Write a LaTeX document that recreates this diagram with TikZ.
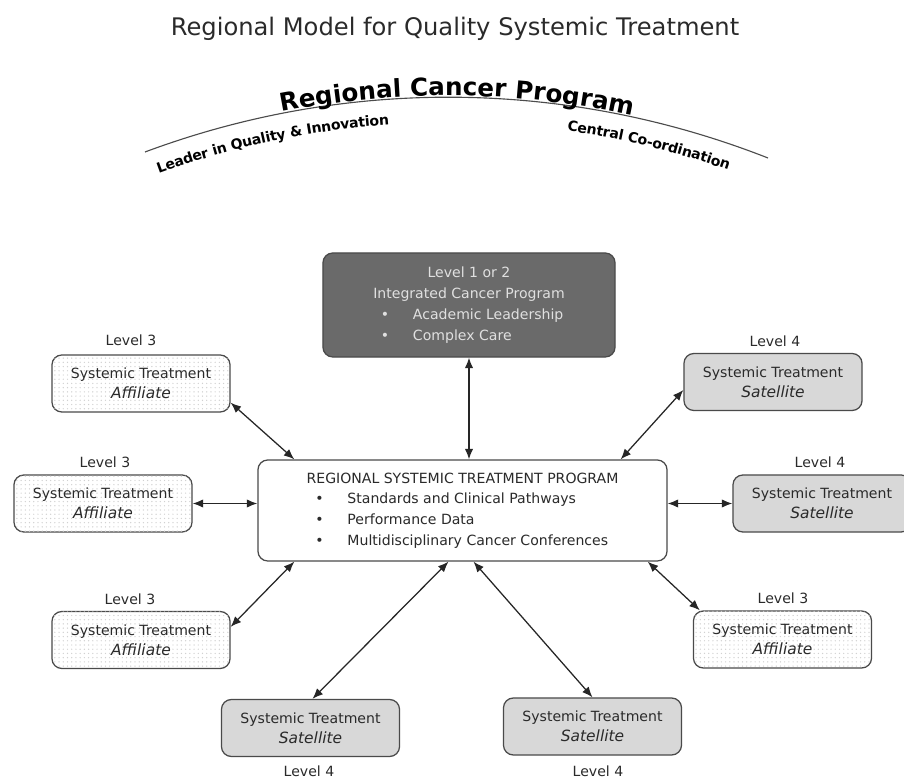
\documentclass[tikz,border=0pt]{standalone}
\usepackage{fontspec}
\setmainfont{DejaVu Sans}
\usetikzlibrary{arrows.meta,decorations.text,patterns}

\definecolor{boxline}{HTML}{4A4A4A}
\definecolor{txt}{HTML}{2A2A2A}
\definecolor{darkbox}{HTML}{6A6A6A}
\definecolor{satfill}{HTML}{D8D8D8}

% one bullet line of a list block
\newcommand\listline[2]{\makebox[#1][l]{\makebox[0.8cm][l]{\textbullet}#2}}
% kind of a small box, set in italics
\newcommand\kind[1]{{\fontsize{11}{14.2}\selectfont\itshape #1}}

\begin{document}
\begin{tikzpicture}[x=0.025cm, y=-0.025cm,
    box/.style={draw=boxline, line width=0.9pt, rounded corners=7pt, align=center,
      font=\fontsize{10}{14.2}\selectfont, text=txt, inner sep=0pt},
    small/.style={box, minimum width=4.45cm, minimum height=1.425cm},
    affil/.style={small, fill=white, postaction={pattern=dots, pattern color=black!18}},
    satel/.style={small, fill=satfill},
    lvl/.style={font=\fontsize{10}{12}\selectfont, text=txt},
    link/.style={{Latex[length=7.5pt,width=6pt]}-{Latex[length=7.5pt,width=6pt]}, line width=0.9pt, black!85}
  ]
    \useasboundingbox (0,0) rectangle (904,780);

    % heading and arc
    \node[font=\fontsize{17.2}{20}\selectfont, text=txt] (title) at (455,29) {Regional Model for Quality Systemic Treatment};
    \draw[line width=0.8pt, black!70] (145,152) .. controls (346,77) and (567,79) .. (768,158);
    \path[decorate, decoration={text along path, raise=1pt, text align=center,
      text={|\fontsize{17.5}{17.5}\selectfont\bfseries|Regional Cancer Program}}]
      (145,152) .. controls (346,77) and (567,79) .. (768,158);
    \path[decorate, decoration={text along path, raise=-18pt, text align={left indent=4pt},
      text={|\fontsize{10}{11}\selectfont\bfseries|Leader in Quality {\&} Innovation}}]
      (145,152) .. controls (346,77) and (567,79) .. (768,158);
    \path[decorate, decoration={text along path, raise=-18pt, text align={right, right indent=24pt},
      text={|\fontsize{10}{11}\selectfont\bfseries|Central Co-ordination}}]
      (145,152) .. controls (346,77) and (567,79) .. (768,158);

    % main boxes
    \node[box, fill=darkbox, text=black!12, font=\fontsize{10}{15}\selectfont,
      minimum width=7.3cm, minimum height=2.6cm] (icp) at (469,305)
      {Level 1 or 2\\Integrated Cancer Program\\
       \listline{4.4cm}{Academic Leadership}\\\listline{4.4cm}{Complex Care}};
    \node[box, fill=white, font=\fontsize{10}{14.6}\selectfont,
      minimum width=10.225cm, minimum height=2.525cm] (ctr) at (462.5,510.5)
      {REGIONAL SYSTEMIC TREATMENT PROGRAM\\
       \listline{7.35cm}{Standards and Clinical Pathways}\\
       \listline{7.35cm}{Performance Data}\\
       \listline{7.35cm}{Multidisciplinary Cancer Conferences}};

    % affiliates and satellites
    \node[affil] (a1) at (141,383.5) {Systemic Treatment\\\kind{Affiliate}};
    \node[affil] (a2) at (103,503.5) {Systemic Treatment\\\kind{Affiliate}};
    \node[affil] (a3) at (141,640) {Systemic Treatment\\\kind{Affiliate}};
    \node[affil] (a4) at (782.5,639.5) {Systemic Treatment\\\kind{Affiliate}};
    \node[satel] (s1) at (773,382) {Systemic Treatment\\\kind{Satellite}};
    \node[satel] (s2) at (822,503.5) {Systemic Treatment\\\kind{Satellite}};
    \node[satel] (b1) at (310.5,728) {Systemic Treatment\\\kind{Satellite}};
    \node[satel] (b2) at (592.5,726.5) {Systemic Treatment\\\kind{Satellite}};

    % level labels
    \node[lvl] (a1l) at (131,340) {Level 3};
    \node[lvl] (a2l) at (105,462) {Level 3};
    \node[lvl] (a3l) at (130,599) {Level 3};
    \node[lvl] (a4l) at (783,598) {Level 3};
    \node[lvl] (s1l) at (775,341) {Level 4};
    \node[lvl] (s2l) at (820,462) {Level 4};
    \node[lvl] (b1l) at (309,771) {Level 4};
    \node[lvl] (b2l) at (598,771) {Level 4};

    % links to the regional program
    \draw[link] (icp.south) -- (icp.south |- ctr.north);
    \draw[link] ([shift={(0,-10)}]a1.south east) -- ([shift={(37,0)}]ctr.north west);
    \draw[link] (a2.east) -- (a2.east -| ctr.west);
    \draw[link] ([shift={(0,16)}]a3.north east) -- ([shift={(37,0)}]ctr.south west);
    \draw[link] ([shift={(0,8)}]s1.west) -- ([shift={(-47,0)}]ctr.north east);
    \draw[link] (s2.west) -- (s2.west -| ctr.east);
    \draw[link] ([shift={(7,0)}]a4.north west) -- ([shift={(-20,0)}]ctr.south east);
    \draw[link] ([shift={(2,0)}]b1.north) -- ([shift={(-14,0)}]ctr.south);
    \draw[link] (b2.north) -- ([shift={(11,0)}]ctr.south);
\end{tikzpicture}
\end{document}
